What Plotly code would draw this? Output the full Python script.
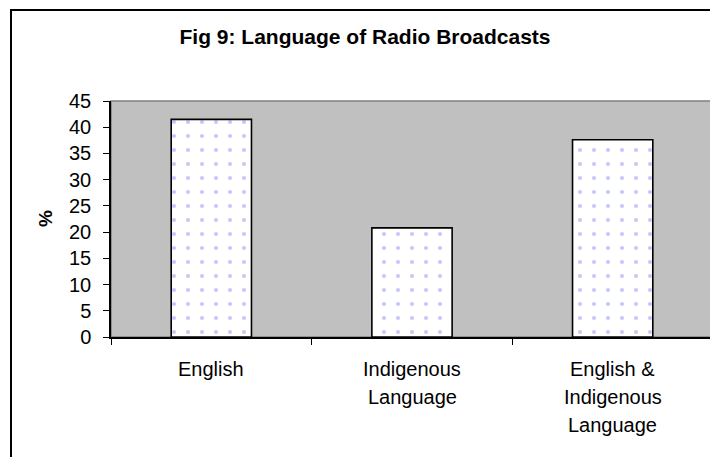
import plotly.graph_objects as go

# data
categories = ["English", "Indigenous<br>Language", "English &<br>Indigenous<br>Language"]
percent = [41.5, 20.8, 37.6]
y_ticks = list(range(0, 50, 5))

# the page adds an 8px body margin, so the figure is 8px smaller than the window
OFF = 8
W, H = 718 - OFF, 457 - OFF
L, R, T, B = 111 - OFF, 5, 101 - OFF, 120
plot_w = W - L - R
plot_h = H - T - B

FONT = 'Liberation Sans, Arial, sans-serif'

fig = go.Figure()

fig.add_trace(go.Bar(
    x=categories,
    y=percent,
    marker=dict(
        color='white',
        line=dict(color='black', width=1.6),
        pattern=dict(shape='.', fgcolor='#8f8fff', bgcolor='white',
                     size=14, solidity=0.07),
    ),
    hoverinfo='x+y',
))

# multi-line category labels as annotations (wider line spacing than tick labels)
for cat in categories:
    for i, line in enumerate(cat.split('<br>')):
        fig.add_annotation(
            x=cat, xref='x', y=0, yref='paper',
            text=line, showarrow=False,
            xanchor='center', yanchor='middle', yshift=-(32 + 28 * i),
            font=dict(family=FONT, size=20, color='black'),
        )

# y axis label
fig.add_annotation(
    x=(45 - OFF - L) / plot_w, xref='paper', y=0.5, yref='paper',
    text='<b>%</b>', textangle=-90, showarrow=False,
    xanchor='center', yanchor='middle',
    font=dict(family=FONT, size=19, color='black'),
)

# grey frame around plot area (top/right edges)
fig.add_shape(type='rect', xref='paper', yref='paper', x0=0, x1=1, y0=0, y1=1,
              line=dict(color='#808080', width=1.5), layer='below')

# outer chart border (left and top visible in the crop)
fig.add_shape(type='rect', xref='paper', yref='paper',
              x0=(11 - OFF - L) / plot_w, x1=1.2,
              y0=-0.7, y1=(T + plot_h - (10 - OFF)) / plot_h,
              line=dict(color='black', width=2))

fig.update_layout(
    width=W, height=H,
    margin=dict(l=L, r=R, t=T, b=B),
    paper_bgcolor='white',
    plot_bgcolor='#c0c0c0',
    bargap=0.6,
    showlegend=False,
    title=dict(
        text='<b>Fig 9: Language of Radio Broadcasts</b>',
        x=(365 - OFF) / W, xanchor='center', xref='container',
        y=1 - (37 - OFF) / H, yanchor='middle', yref='container',
        font=dict(family=FONT, size=21, color='black'),
    ),
    font=dict(family=FONT, size=20, color='black'),
)

fig.update_xaxes(
    showticklabels=False,
    ticks='outside', ticklen=6, tickcolor='black', tickwidth=1,
    tickson='boundaries',
    showline=True, linecolor='black', linewidth=1.5,
    showgrid=False, zeroline=False,
)

fig.update_yaxes(
    range=[0, 45],
    tickvals=y_ticks,
    ticks='outside', ticklen=6, tickcolor='black', tickwidth=1,
    ticklabelstandoff=8,
    showline=True, linecolor='black', linewidth=1.5,
    showgrid=False, zeroline=False,
    tickfont=dict(size=20),
)

fig.write_html("out.html")
